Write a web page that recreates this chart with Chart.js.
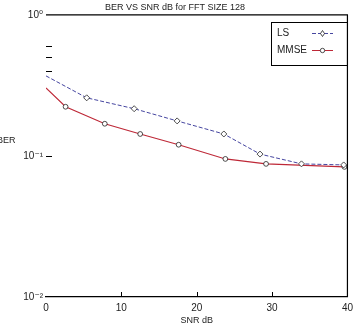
<!DOCTYPE html>
<html>
<head>
<meta charset="utf-8">
<script src="https://cdn.jsdelivr.net/npm/chart.js@4.4.0/dist/chart.umd.min.js"></script>
<style>
  html, body { margin: 0; padding: 0; background: #fff; }
  #wrap { width: 358px; height: 324px; }
</style>
</head>
<body>
<div id="wrap"><canvas id="ber-chart"></canvas></div>
<script>
// values
const lsSnr = [0, 5.4, 11.7, 17.4, 23.6, 28.4, 33.9, 39.5];
const lsBer = [0.369, 0.258, 0.216, 0.177, 0.143, 0.103, 0.0878, 0.0863];
const mmseSnr = [0, 2.6, 7.8, 12.5, 17.6, 23.8, 29.2, 39.6];
const mmseBer = [0.303, 0.223, 0.169, 0.143, 0.120, 0.0952, 0.0878, 0.0836];
const yTicks = [0.01, 0.1, 1];
const yTickLabels = ['10\u207B\u00B2', '10\u207B\u00B9', '10\u2070'];
const yMinorTicks = [0.4, 0.5, 0.6];
const xInnerTicks = [10, 20, 30];

const fontFamily = '"Liberation Sans", "DejaVu Sans", sans-serif';

function toPoints(xs, ys) {
    return xs.map((x, i) => ({x: x, y: ys[i]}));
}

// frame on top and right, small inside ticks, the flat BER label and the legend box
const decorPlugin = {
    id: 'decor',
    afterDraw(chart) {
        const ctx = chart.ctx;
        const a = chart.chartArea;
        const xs = chart.scales.x;
        const ys = chart.scales.y;
        ctx.save();
        ctx.strokeStyle = '#000';
        ctx.lineWidth = 1.2;
        ctx.beginPath();
        ctx.moveTo(a.left, a.top);
        ctx.lineTo(a.right, a.top);
        ctx.lineTo(a.right, a.bottom);
        ctx.stroke();

        ctx.lineWidth = 1;
        ctx.beginPath();
        xInnerTicks.forEach(v => {
            const px = Math.round(xs.getPixelForValue(v)) + 0.5;
            ctx.moveTo(px, a.bottom);
            ctx.lineTo(px, a.bottom - 5);
        });
        yMinorTicks.concat([0.1]).forEach(v => {
            const py = Math.round(ys.getPixelForValue(v)) + 0.5;
            ctx.moveTo(a.left, py);
            ctx.lineTo(a.left + 6, py);
        });
        ctx.stroke();

        ctx.fillStyle = '#222';
        ctx.font = '9px ' + fontFamily;
        ctx.textBaseline = 'middle';
        ctx.textAlign = 'left';
        ctx.fillText('BER', -3, 141);

        // legend
        ctx.lineWidth = 1;
        ctx.strokeStyle = '#000';
        ctx.strokeRect(271.5, 22.5, 76, 43);
        ctx.font = '10px ' + fontFamily;
        chart.data.datasets.forEach((ds, i) => {
            const y = 33 + i * 17;
            ctx.fillStyle = '#222';
            ctx.fillText(ds.label, 277, y);
            ctx.strokeStyle = ds.borderColor;
            ctx.lineWidth = 1;
            ctx.setLineDash(ds.borderDash || []);
            ctx.beginPath();
            ctx.moveTo(312, y + 0.5);
            ctx.lineTo(333, y + 0.5);
            ctx.stroke();
            ctx.setLineDash([]);
            ctx.strokeStyle = ds.pointBorderColor;
            ctx.lineWidth = 0.8;
            ctx.fillStyle = '#fff';
            ctx.beginPath();
            if (ds.pointStyle === 'rectRot') {
                ctx.moveTo(322.5, y - 2.5);
                ctx.lineTo(324.5, y + 0.5);
                ctx.lineTo(322.5, y + 3.5);
                ctx.lineTo(320.5, y + 0.5);
                ctx.closePath();
            } else {
                ctx.arc(322.5, y + 0.5, 2.2, 0, Math.PI * 2);
            }
            ctx.fill();
            ctx.stroke();
        });
        ctx.restore();
    }
};

const chartData = {
    datasets: [{
        label: 'LS',
        data: toPoints(lsSnr, lsBer),
        borderColor: 'rgb(70,70,160)',
        borderWidth: 1,
        borderDash: [4, 2],
        pointStyle: 'rectRot',
        pointRadius: [0, 3, 3, 3, 3, 3, 3, 3],
        pointBackgroundColor: '#fff',
        pointBorderColor: '#222',
        pointBorderWidth: 0.8,
        tension: 0
    }, {
        label: 'MMSE',
        data: toPoints(mmseSnr, mmseBer),
        borderColor: 'rgb(190,40,55)',
        borderWidth: 1.1,
        pointStyle: 'circle',
        pointRadius: [0, 2.4, 2.4, 2.4, 2.4, 2.4, 2.4, 2.4],
        pointBackgroundColor: '#fff',
        pointBorderColor: '#222',
        pointBorderWidth: 0.8,
        tension: 0
    }]
};

const config = {
    type: 'line',
    data: chartData,
    plugins: [decorPlugin],
    options: {
        responsive: true,
        maintainAspectRatio: false,
        animation: false,
        layout: { padding: { left: 0, right: 8, top: 0, bottom: 0 } },
        plugins: {
            legend: { display: false },
            tooltip: { enabled: false },
            title: {
                display: true,
                text: 'BER VS SNR dB for FFT SIZE 128',
                color: '#222',
                font: { family: fontFamily, size: 9, weight: 'normal' },
                padding: { top: 2, bottom: 2 }
            }
        },
        scales: {
            x: {
                type: 'linear',
                min: 0,
                max: 40,
                grid: { display: false, drawTicks: false },
                border: { display: true, color: '#000', width: 1.2 },
                ticks: {
                    stepSize: 10,
                    color: '#222',
                    padding: 5,
                    font: { family: fontFamily, size: 10 }
                },
                title: {
                    display: true,
                    text: 'SNR dB',
                    color: '#222',
                    padding: { top: 0, bottom: -2 },
                    font: { family: fontFamily, size: 9 }
                },
                afterFit(scale) { scale.height = 27; }
            },
            y: {
                type: 'logarithmic',
                min: 0.01,
                max: 1,
                grid: { display: false, drawTicks: false },
                border: { display: false },
                afterBuildTicks(scale) {
                    scale.ticks = yTicks.map(v => ({value: v}));
                },
                ticks: {
                    color: '#222',
                    padding: 3,
                    font: { family: fontFamily, size: 10 },
                    callback: function(value) {
                        const i = yTicks.indexOf(value);
                        return i >= 0 ? yTickLabels[i] : '';
                    }
                },
                afterFit(scale) { scale.width = 46; }
            }
        }
    }
};

new Chart(document.getElementById('ber-chart'), config);
</script>
</body>
</html>
